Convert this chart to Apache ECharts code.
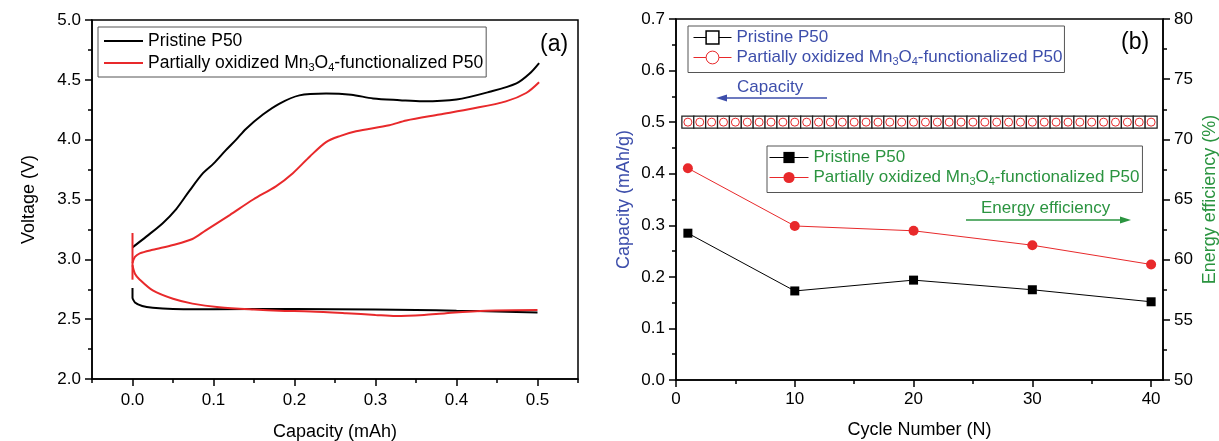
<!DOCTYPE html>
<html lang="en">
<head>
<meta charset="UTF-8">
<title>P50 voltage profiles and cycling</title>
<script src="https://cdn.jsdelivr.net/npm/echarts@6.0.0/dist/echarts.min.js"></script>
<style>
    * { margin: 0; padding: 0; }
    body { background: #fff; }
    #chart { width: 1219px; height: 441px; }
</style>
</head>
<body>
<div id="chart"></div>
<script>
// ---- data (a): voltage vs capacity, [capacity mAh, voltage V]
const pristineCharge = [
    [0, 3.10], [0.017, 3.19], [0.037, 3.30], [0.054, 3.42], [0.07, 3.57], [0.087, 3.72],
    [0.1, 3.80], [0.115, 3.91], [0.128, 4.00], [0.14, 4.09], [0.161, 4.21], [0.181, 4.30],
    [0.206, 4.37], [0.239, 4.385], [0.27, 4.375], [0.297, 4.345], [0.33, 4.33], [0.358, 4.32],
    [0.40, 4.335], [0.441, 4.40], [0.474, 4.47], [0.49, 4.55], [0.502, 4.64]
];
const pristineDischarge = [
    [0, 2.76], [0, 2.68], [0.003, 2.64], [0.012, 2.61], [0.025, 2.595], [0.05, 2.585],
    [0.1, 2.583], [0.2, 2.585], [0.3, 2.58], [0.35, 2.577], [0.4, 2.57], [0.45, 2.565], [0.5, 2.555]
];
const mnStep = [[0, 3.22], [0, 2.83]];
const mnCharge = [
    [0, 2.97], [0.003, 3.02], [0.009, 3.05], [0.025, 3.08], [0.05, 3.12], [0.074, 3.17],
    [0.09, 3.24], [0.12, 3.37], [0.149, 3.50], [0.177, 3.61], [0.198, 3.72], [0.219, 3.86],
    [0.239, 3.98], [0.256, 4.03], [0.276, 4.07], [0.317, 4.12], [0.338, 4.16], [0.379, 4.21],
    [0.42, 4.26], [0.461, 4.32], [0.486, 4.39], [0.502, 4.48]
];
const mnDischarge = [
    [0, 2.95], [0.003, 2.88], [0.009, 2.83], [0.025, 2.74], [0.05, 2.67], [0.074, 2.63],
    [0.107, 2.60], [0.15, 2.58], [0.181, 2.57], [0.22, 2.565], [0.264, 2.55], [0.3, 2.535],
    [0.325, 2.526], [0.36, 2.535], [0.387, 2.55], [0.437, 2.57], [0.5, 2.576]
];

// ---- data (b): cycling
const capCycles = [1, 2, 3, 4, 5, 6, 7, 8, 9, 10, 11, 12, 13, 14, 15, 16, 17, 18, 19, 20,
    21, 22, 23, 24, 25, 26, 27, 28, 29, 30, 31, 32, 33, 34, 35, 36, 37, 38, 39, 40];
const capPristine = [0.5, 0.5, 0.5, 0.5, 0.5, 0.5, 0.5, 0.5, 0.5, 0.5, 0.5, 0.5, 0.5, 0.5, 0.5, 0.5, 0.5, 0.5, 0.5, 0.5,
    0.5, 0.5, 0.5, 0.5, 0.5, 0.5, 0.5, 0.5, 0.5, 0.5, 0.5, 0.5, 0.5, 0.5, 0.5, 0.5, 0.5, 0.5, 0.5, 0.5];
const capMn = [0.5, 0.5, 0.5, 0.5, 0.5, 0.5, 0.5, 0.5, 0.5, 0.5, 0.5, 0.5, 0.5, 0.5, 0.5, 0.5, 0.5, 0.5, 0.5, 0.5,
    0.5, 0.5, 0.5, 0.5, 0.5, 0.5, 0.5, 0.5, 0.5, 0.5, 0.5, 0.5, 0.5, 0.5, 0.5, 0.5, 0.5, 0.5, 0.5, 0.5];
const eeCycles = [1, 10, 20, 30, 40];
const eePristine = [62.2, 57.4, 58.3, 57.5, 56.5];
const eeMn = [67.6, 62.8, 62.4, 61.2, 59.6];

// ---- tick labels
const capTicks = [0, 0.1, 0.2, 0.3, 0.4, 0.5];
const capMinorTicks = [-0.05, 0.05, 0.15, 0.25, 0.35, 0.45, 0.55];
const cycleTicks = [0, 10, 20, 30, 40];
const cycleMinorTicks = [5, 15, 25, 35];

const legendLabels = {
    aP: 'Pristine P50',
    aM: 'Partially oxidized Mn_3O_4-functionalized P50',
    capP: 'Pristine P50',
    capM: 'Partially oxidized Mn_3O_4-functionalized P50',
    eeP: 'Pristine P50',
    eeM: 'Partially oxidized Mn_3O_4-functionalized P50'
};

const FONT = '"Liberation Sans", Arial, sans-serif';
const BLUE = '#3d4eab';
const GREEN = '#2b9440';
const RED = '#e8292b';

const zip = (xs, ys) => xs.map((x, i) => [x, ys[i]]);

// "Mn_3O_4" -> rich text with subscripts
function richLabel(name) {
    const parts = legendLabels[name].split(/_(\d)/);
    return parts.map((p, i) => i % 2 ? '{s|' + p + '}' : (p ? '{n|' + p + '}' : '')).join('');
}

function legendText(color, size) {
    return {
        color: color, fontFamily: FONT, fontSize: size,
        rich: {
            n: { color: color, fontFamily: FONT, fontSize: size, lineHeight: 20 },
            s: { color: color, fontFamily: FONT, fontSize: 11, lineHeight: 8, verticalAlign: 'bottom' }
        }
    };
}

const axisLine = { show: true, onZero: false, lineStyle: { color: '#000', width: 1.5 } };
const labelStyle = { color: '#000', fontFamily: FONT, fontSize: 17 };
const nameStyle = { color: '#000', fontFamily: FONT, fontSize: 18 };
const tickStyle = { color: '#000', width: 1.5 };

const chart = echarts.init(document.getElementById('chart'), null, { renderer: 'canvas' });

const option = {
    animation: false,
    backgroundColor: '#fff',
    grid: [
        { left: 92, top: 20, width: 486, height: 359, outerBoundsMode: 'none', containLabel: false, show: true, borderColor: '#000', borderWidth: 1.5 },
        { left: 676, top: 19, width: 487, height: 361, outerBoundsMode: 'none', containLabel: false, show: true, borderColor: '#000', borderWidth: 1.5 }
    ],
    xAxis: [
        {
            gridIndex: 0, type: 'value', position: 'bottom', min: -0.05, max: 0.55,
            name: 'Capacity (mAh)', nameLocation: 'middle', nameGap: 44, nameTextStyle: nameStyle,
            axisLine: axisLine, splitLine: { show: false },
            axisTick: { customValues: capTicks, length: 7, lineStyle: tickStyle },
            axisLabel: Object.assign({ customValues: capTicks, margin: 13, formatter: v => v.toFixed(1) }, labelStyle)
        },
        {
            gridIndex: 0, type: 'value', position: 'bottom', min: -0.05, max: 0.55,
            axisLine: { show: false }, splitLine: { show: false }, axisLabel: { show: false },
            axisTick: { customValues: capMinorTicks, length: 4, lineStyle: tickStyle }
        },
        {
            gridIndex: 1, type: 'value', position: 'bottom', min: 0, max: 41,
            name: 'Cycle Number (N)', nameLocation: 'middle', nameGap: 41, nameTextStyle: nameStyle,
            axisLine: axisLine, splitLine: { show: false },
            axisTick: { customValues: cycleTicks, length: 7, lineStyle: tickStyle },
            axisLabel: Object.assign({ customValues: cycleTicks, margin: 11 }, labelStyle)
        },
        {
            gridIndex: 1, type: 'value', position: 'bottom', min: 0, max: 41,
            axisLine: { show: false }, splitLine: { show: false }, axisLabel: { show: false },
            axisTick: { customValues: cycleMinorTicks, length: 4, lineStyle: tickStyle }
        }
    ],
    yAxis: [
        {
            gridIndex: 0, type: 'value', position: 'left', min: 2, max: 5, interval: 0.5,
            name: 'Voltage (V)', nameLocation: 'middle', nameGap: 54, nameRotate: 90, nameTextStyle: nameStyle,
            axisLine: axisLine, splitLine: { show: false },
            axisTick: { length: 7, lineStyle: tickStyle },
            minorTick: { show: true, splitNumber: 2, length: 4, lineStyle: tickStyle },
            axisLabel: Object.assign({ margin: 11, formatter: v => v.toFixed(1) }, labelStyle)
        },
        {
            gridIndex: 1, type: 'value', position: 'left', min: 0, max: 0.7, interval: 0.1,
            name: 'Capacity (mAh/g)', nameLocation: 'middle', nameGap: 43, nameRotate: 90,
            nameTextStyle: Object.assign({}, nameStyle, { color: BLUE }),
            axisLine: axisLine, splitLine: { show: false },
            axisTick: { length: 7, lineStyle: tickStyle },
            minorTick: { show: true, splitNumber: 2, length: 4, lineStyle: tickStyle },
            axisLabel: Object.assign({ margin: 11, formatter: v => v.toFixed(1) }, labelStyle)
        },
        {
            gridIndex: 1, type: 'value', position: 'right', min: 50, max: 80, interval: 5,
            name: 'Energy efficiency (%)', nameLocation: 'middle', nameGap: 38, nameRotate: 90,
            nameTextStyle: Object.assign({}, nameStyle, { color: GREEN }),
            axisLine: axisLine, splitLine: { show: false },
            axisTick: { length: 7, lineStyle: tickStyle },
            minorTick: { show: true, splitNumber: 2, length: 4, lineStyle: tickStyle },
            axisLabel: Object.assign({ margin: 11 }, labelStyle)
        }
    ],
    legend: [
        {
            orient: 'vertical', left: 98, top: 27, padding: [5, 3, 4, 5],
            itemWidth: 39, itemHeight: 2, itemGap: 4, itemTextGap: 5,
            borderColor: '#555', borderWidth: 1, selectedMode: false,
            data: [
                { name: 'aP', lineStyle: { color: '#000', width: 2 }, itemStyle: { color: '#000', opacity: 0 } },
                { name: 'aM', lineStyle: { color: RED, width: 2 }, itemStyle: { color: RED, opacity: 0 } }
            ],
            formatter: richLabel, textStyle: legendText('#000', 17.5)
        },
        {
            orient: 'vertical', left: 688, top: 26, padding: [3, 2, 5, 5],
            itemWidth: 38, itemHeight: 16, itemGap: 3, itemTextGap: 6,
            borderColor: '#555', borderWidth: 1, selectedMode: false,
            data: [
                { name: 'capP', lineStyle: { color: '#000', width: 1 }, itemStyle: { color: '#fff', borderColor: '#000', borderWidth: 1.5 } },
                { name: 'capM', lineStyle: { color: RED, width: 1 }, itemStyle: { color: '#fff', borderColor: RED, borderWidth: 1 } }
            ],
            formatter: richLabel, textStyle: legendText(BLUE, 17)
        },
        {
            orient: 'vertical', left: 767, top: 146, padding: [3, 3, 5, 2],
            itemWidth: 39, itemHeight: 14, itemGap: 3, itemTextGap: 6,
            borderColor: '#555', borderWidth: 1, selectedMode: false,
            data: [
                { name: 'eeP', lineStyle: { color: '#000', width: 1 }, itemStyle: { color: '#000' } },
                { name: 'eeM', lineStyle: { color: RED, width: 1 }, itemStyle: { color: RED } }
            ],
            formatter: richLabel, textStyle: legendText(GREEN, 17)
        }
    ],
    graphic: [
        { type: 'text', x: 540, y: 45, style: { text: '(a)', fill: '#000', font: '23px ' + FONT, verticalAlign: 'middle' } },
        { type: 'text', x: 1121, y: 43, style: { text: '(b)', fill: '#000', font: '23px ' + FONT, verticalAlign: 'middle' } },
        { type: 'text', x: 737, y: 87, style: { text: 'Capacity', fill: BLUE, font: '17px ' + FONT, verticalAlign: 'middle' } },
        { type: 'line', shape: { x1: 827, y1: 98, x2: 724, y2: 98 }, style: { stroke: BLUE, lineWidth: 1.3 } },
        { type: 'polygon', shape: { points: [[716, 98], [727, 94.5], [727, 101.5]] }, style: { fill: BLUE } },
        { type: 'text', x: 981, y: 208, style: { text: 'Energy efficiency', fill: GREEN, font: '17px ' + FONT, verticalAlign: 'middle' } },
        { type: 'line', shape: { x1: 966, y1: 220, x2: 1122, y2: 220 }, style: { stroke: GREEN, lineWidth: 1.3 } },
        { type: 'polygon', shape: { points: [[1131, 220], [1120, 216.5], [1120, 223.5]] }, style: { fill: GREEN } }
    ],
    series: [
        { name: 'aP', type: 'line', xAxisIndex: 0, yAxisIndex: 0, data: pristineCharge, symbol: 'none', smooth: 0.3, color: '#000', lineStyle: { color: '#000', width: 2 } },
        { name: 'aP', type: 'line', xAxisIndex: 0, yAxisIndex: 0, data: pristineDischarge, symbol: 'none', smooth: 0.2, color: '#000', lineStyle: { color: '#000', width: 2 } },
        { name: 'aM', type: 'line', xAxisIndex: 0, yAxisIndex: 0, data: mnStep, symbol: 'none', color: RED, lineStyle: { color: RED, width: 2 } },
        { name: 'aM', type: 'line', xAxisIndex: 0, yAxisIndex: 0, data: mnCharge, symbol: 'none', smooth: 0.3, color: RED, lineStyle: { color: RED, width: 2 } },
        { name: 'aM', type: 'line', xAxisIndex: 0, yAxisIndex: 0, data: mnDischarge, symbol: 'none', smooth: 0.3, color: RED, lineStyle: { color: RED, width: 2 } },
        {
            name: 'capP', type: 'line', xAxisIndex: 2, yAxisIndex: 1, data: zip(capCycles, capPristine),
            symbol: 'rect', symbolSize: 12, itemStyle: { color: '#fff', borderColor: '#222', borderWidth: 1.3 },
            lineStyle: { color: '#000', width: 1 }
        },
        {
            name: 'capM', type: 'line', xAxisIndex: 2, yAxisIndex: 1, data: zip(capCycles, capMn),
            symbol: 'circle', symbolSize: 8, itemStyle: { color: '#fff', borderColor: RED, borderWidth: 1 },
            lineStyle: { color: RED, width: 0 }
        },
        {
            name: 'eeP', type: 'line', xAxisIndex: 2, yAxisIndex: 2, data: zip(eeCycles, eePristine),
            symbol: 'rect', symbolSize: 9, color: '#000', lineStyle: { color: '#000', width: 1 }
        },
        {
            name: 'eeM', type: 'line', xAxisIndex: 2, yAxisIndex: 2, data: zip(eeCycles, eeMn),
            symbol: 'circle', symbolSize: 10, color: RED, lineStyle: { color: RED, width: 1 }
        }
    ]
};

chart.setOption(option);
window.addEventListener('resize', chart.resize);
</script>
</body>
</html>
